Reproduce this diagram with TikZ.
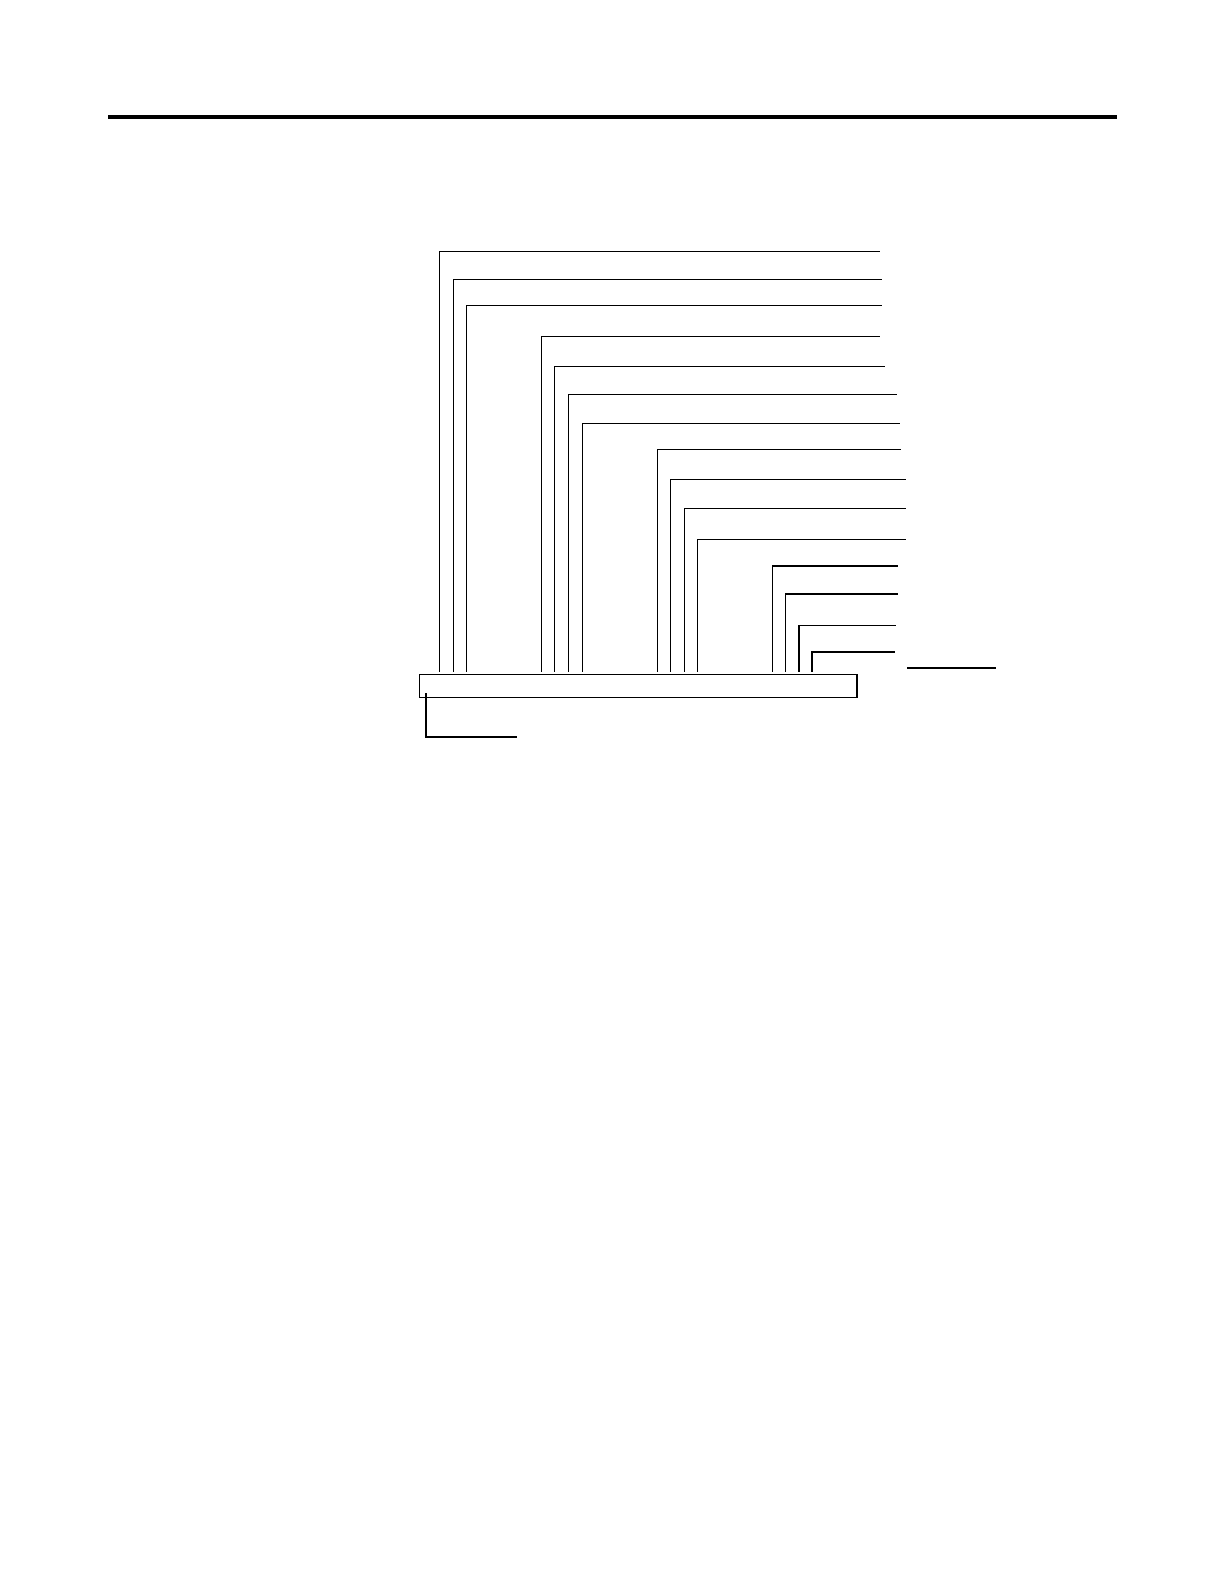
\documentclass[tikz,border=0pt]{standalone}
\begin{document}
\begin{tikzpicture}[x=0.5pt,y=-0.5pt,
  wire/.style={line width=0.8pt,line cap=rect},
  rule/.style={line width=2pt},
  busbox/.style={draw,line width=0.8pt}]
\useasboundingbox (0,0) rectangle (1224,1584);
\draw[rule] (108,117) -- (1117,117);
\foreach \x/\y/\e [count=\i] in {
  439.4/251.5/879, 453.6/279.3/881, 466.5/305.3/881,
  541.5/336.3/879, 554.3/366.3/883.7, 568.3/394.3/896, 582.3/423.3/899,
  657.6/449.3/900, 670.6/479.3/905, 684.3/508.3/905, 697.4/539.3/905,
  772.4/566/896.7, 785.4/594/896.7, 799.2/625.3/895.6, 812.2/652/893.7}
  \draw[wire] (\x,671) -- (\x,\y) -- (\e,\y);
\draw[busbox] (419.3,674.5) rectangle (856.7,697.5);
\coordinate (lt) at (426,694);
\coordinate (lb) at (426,737);
\coordinate (le) at (516,737);
\draw[wire] (lt) -- (lb) -- (le);
\coordinate (ra) at (908,668);
\coordinate (rb) at (995,668);
\draw[wire] (ra) -- (rb);
\end{tikzpicture}
\end{document}
